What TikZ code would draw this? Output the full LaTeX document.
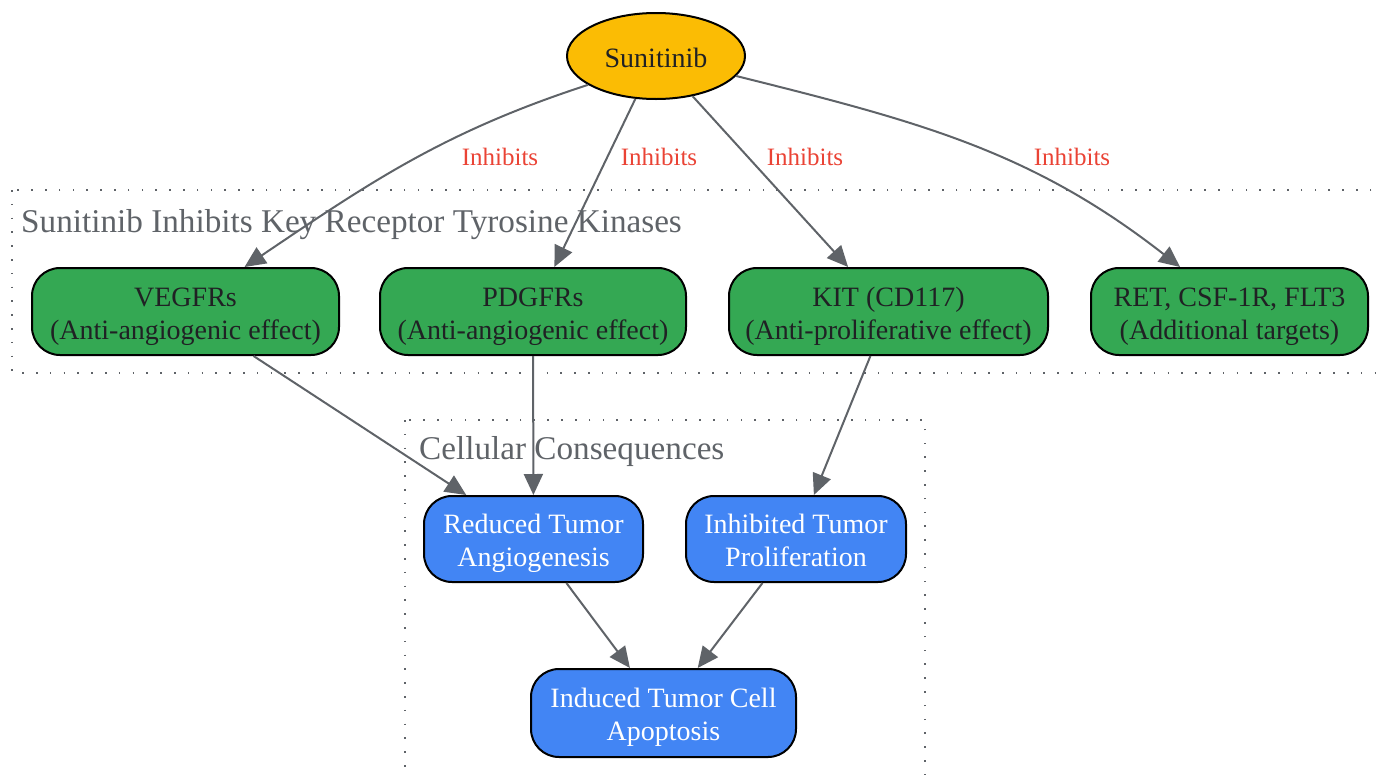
\documentclass[tikz,border=0pt]{standalone}
\usepackage{fontspec}
\setmainfont{Liberation Serif}
\usetikzlibrary{shapes.geometric,arrows.meta}
\definecolor{gyellow}{HTML}{FBBC04}
\definecolor{ggreen}{HTML}{34A853}
\definecolor{gblue}{HTML}{4285F4}
\definecolor{gred}{HTML}{EA4335}
\definecolor{ggray}{HTML}{5F6368}
\definecolor{gdark}{HTML}{202124}
\newcommand{\txt}[1]{\raisebox{-4.5pt}[\height][\depth]{\begin{tabular}{@{}c@{}}#1\end{tabular}}}
\begin{document}
\begin{tikzpicture}[x=1pt,y=1pt,
  nodefont/.style={font=\fontsize{28}{33}\selectfont},
  box/.style={draw=black,line width=2pt,rounded corners=28pt,minimum height=87pt,inner sep=0pt,align=center,nodefont},
  greenbox/.style={box,fill=ggreen,text=gdark},
  bluebox/.style={box,fill=gblue,text=white},
  edge/.style={draw=ggray,line width=2pt,-{Triangle[length=21pt,width=19pt]}},
  elabel/.style={text=gred,font=\fontsize{25}{30}\selectfont,inner sep=0pt},
  cluster/.style={draw=ggray,line width=1.6pt,dash pattern=on 1.6pt off 12.2pt},
  clabel/.style={text=ggray,font=\fontsize{33.2}{38}\selectfont,inner sep=0pt,anchor=west}
]
\useasboundingbox (0,0) rectangle (1376,-774);
% clusters
\draw[cluster] (12,-190) rectangle (1385,-373);
\node[clabel] (c1) at (21,-225) {Sunitinib Inhibits Key Receptor Tyrosine Kinases};
\draw[cluster] (405,-420) rectangle (925,-800);
\node[clabel] (c2) at (419,-452) {Cellular Consequences};
% nodes
\node[ellipse,draw=black,line width=2pt,fill=gyellow,text=gdark,minimum width=178pt,minimum height=86pt,inner sep=0pt,nodefont] (sun) at (656,-56) {\txt{Sunitinib}};
\node[greenbox,minimum width=307pt] (vegf) at (185.5,-311.5) {\txt{VEGFRs\\(Anti-angiogenic effect)}};
\node[greenbox,minimum width=306pt] (pdgf) at (533,-311.5) {\txt{PDGFRs\\(Anti-angiogenic effect)}};
\node[greenbox,minimum width=319pt] (kit) at (888.5,-311.5) {\txt{KIT (CD117)\\(Anti-proliferative effect)}};
\node[greenbox,minimum width=277pt] (ret) at (1229.5,-311.5) {\txt{RET, CSF-1R, FLT3\\(Additional targets)}};
\node[bluebox,minimum width=219pt,minimum height=86pt] (red) at (533.5,-539) {\txt{Reduced Tumor\\Angiogenesis}};
\node[bluebox,minimum width=220pt,minimum height=86pt] (inh) at (796,-539) {\txt{Inhibited Tumor\\Proliferation}};
\node[bluebox,minimum width=265pt,minimum height=88pt] (ind) at (663.5,-713) {\txt{Induced Tumor Cell\\Apoptosis}};
% edges
\draw[edge] (sun.203) to[out=198,in=34] (vegf.37.7);
\draw[edge] (sun) -- (pdgf);
\draw[edge] (sun) -- (kit);
\draw[edge] (sun.-14) to[out=-14,in=142] (ret.138);
\draw[edge] (vegf) -- (red);
\draw[edge] (pdgf) -- (red);
\draw[edge] (kit) -- (inh);
\draw[edge] (red) -- (ind);
\draw[edge] (inh) -- (ind);
% edge labels
\node[elabel] (l1) at (500,-157) {Inhibits};
\node[elabel] (l2) at (659,-157) {Inhibits};
\node[elabel] (l3) at (805,-157) {Inhibits};
\node[elabel] (l4) at (1072,-157) {Inhibits};
\end{tikzpicture}
\end{document}
